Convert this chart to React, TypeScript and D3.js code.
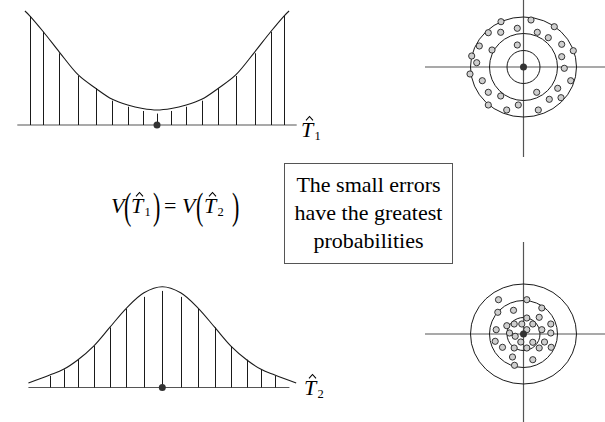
import React from 'react';
import * as d3 from 'd3';

const W = 605, H = 422;

// estimator T1: wide sampling distribution (top left)
const t1StemX = [-1, -0.895, -0.769, -0.62, -0.483, -0.352, -0.23, -0.113, 0, 0.113, 0.23, 0.352, 0.483, 0.62, 0.769, 0.895, 1];
const t1StemH = [0.956, 0.818, 0.629, 0.43, 0.322, 0.213, 0.16, 0.123, 0.1, 0.123, 0.16, 0.213, 0.322, 0.43, 0.629, 0.818, 0.956];
const t1CurveX = [-1.04, -1, -0.895, -0.769, -0.62, -0.483, -0.352, -0.23, -0.113, 0, 0.113, 0.23, 0.352, 0.483, 0.62, 0.769, 0.895, 1, 1.04];
const t1CurveY = [1, 0.956, 0.818, 0.64, 0.439, 0.322, 0.225, 0.175, 0.145, 0.132, 0.145, 0.175, 0.225, 0.322, 0.439, 0.64, 0.818, 0.956, 1];

// estimator T2: concentrated distribution (bottom left)
const t2StemX = [-1, -0.878, -0.752, -0.61, -0.467, -0.32, -0.163, 0, 0.163, 0.32, 0.467, 0.61, 0.752, 0.878, 1];
const t2StemH = [0.115, 0.18, 0.276, 0.411, 0.596, 0.779, 0.899, 0.958, 0.899, 0.779, 0.596, 0.411, 0.276, 0.18, 0.115];
const t2CurveX = [-1.19, -1, -0.878, -0.752, -0.61, -0.467, -0.32, -0.163, 0, 0.163, 0.32, 0.467, 0.61, 0.752, 0.878, 1, 1.19];
const t2CurveY = [0.045, 0.124, 0.18, 0.273, 0.411, 0.596, 0.786, 0.94, 1, 0.94, 0.786, 0.596, 0.411, 0.273, 0.18, 0.124, 0.045];

// target rings (error units)
const ringRx = [16.5, 34, 53];
const ringRy = [16.5, 33.5, 50];

// shots around the target for T1 (dx, dy with y up)
const t1Shots: [number, number][] = [
  [-22.5, 45.3], [7.5, 47], [30.8, 40.3], [-35.2, 34.3], [-22.8, 34.7], [-6.2, 38.7], [13.8, 34.7], [24.8, 29.3],
  [-44.2, 21], [-31.5, 17], [-6.2, 22], [38.2, 22.7], [49.8, 16.3], [-51.8, 11], [-46.8, 4.3], [38.2, 10.3],
  [40.8, -1.3], [-53.5, -7], [-41.2, -13.7], [47.2, -13.7], [-35.2, -25.3], [-22.8, -29], [13.2, -25.3], [34.2, -21.3],
  [25.8, -32.3], [37.5, -30.7], [-35.2, -38], [-16.8, -43], [-5.2, -38], [14.8, -43],
];

// shots for T2
const t2Shots: [number, number][] = [
  [-25, 34.3], [3.3, 34.3], [18.3, 26], [-25.7, 21.7], [-10, 23.7], [3.3, 16], [15.7, 16.7], [-16.7, 8.3],
  [-9.3, 10], [-1.7, 10], [9.3, 10], [27.3, 10], [-27.3, 4.3], [-14, 1], [3.3, 4.3], [18.3, 4.3],
  [27.3, 1], [-8.3, -2.3], [-28.3, -7.3], [-2.7, -8], [9.3, -8.3], [21, -8], [-21, -13.3], [-9.3, -14],
  [3.3, -14], [15.7, -14], [27.7, -13.3], [-11, -23], [9.3, -25.7], [-9, -31.3],
];

const boxLines = ['The small errors', 'have the greatest', 'probabilities'];

const ink = '#1a1a1a';
const axisCol = '#555';
const serif = 'Liberation Serif';

function Distribution(props: { xs: number[]; hs: number[]; cx: number[]; cy: number[]; xRange: [number, number]; yRange: [number, number]; axisDom: [number, number] }) {
  const x = d3.scaleLinear().domain([-1, 1]).range(props.xRange);
  const y = d3.scaleLinear().domain([0, 1]).range(props.yRange);
  const pts = props.cx.map((v, i) => [v, props.cy[i]] as [number, number]);
  const line = d3.line<[number, number]>().x(d => x(d[0])).y(d => y(d[1])).curve(d3.curveCatmullRom.alpha(0.5));
  return (
    <g>
      <line x1={x(props.axisDom[0])} x2={x(props.axisDom[1])} y1={y(0)} y2={y(0)} stroke={axisCol} strokeWidth={1.2} />
      {props.xs.map((v, i) => (
        <line key={i} x1={Math.round(x(v)) + 0.5} x2={Math.round(x(v)) + 0.5} y1={y(0)} y2={y(props.hs[i])} stroke={ink} strokeWidth={1} />
      ))}
      <path d={line(pts) || ''} fill="none" stroke={ink} strokeWidth={1.1} />
      <circle cx={x(0)} cy={y(0)} r={3.5} fill="#333" />
    </g>
  );
}

function Target(props: { cx: number; cy: number; shots: [number, number][]; hx: [number, number]; vy: [number, number] }) {
  const sx = d3.scaleLinear().domain([-60, 60]).range([props.cx - 60, props.cx + 60]);
  const sy = d3.scaleLinear().domain([-60, 60]).range([props.cy + 60, props.cy - 60]);
  return (
    <g>
      <line x1={props.hx[0]} x2={props.hx[1]} y1={props.cy} y2={props.cy} stroke={axisCol} strokeWidth={1.2} />
      <line x1={props.cx} x2={props.cx} y1={props.vy[0]} y2={props.vy[1]} stroke={axisCol} strokeWidth={1.2} />
      {ringRx.map((r, i) => (
        <ellipse key={i} cx={props.cx} cy={props.cy} rx={sx(r) - sx(0)} ry={sy(0) - sy(ringRy[i])} fill="none" stroke={ink} strokeWidth={1} />
      ))}
      {props.shots.map((d, i) => (
        <circle key={i} cx={sx(d[0])} cy={sy(d[1])} r={3.1} fill="#cfcfcf" stroke="#222" strokeWidth={0.9} />
      ))}
      <circle cx={props.cx} cy={props.cy} r={3.5} fill="#333" />
    </g>
  );
}

// italic T with a circumflex and a subscript
function THat(props: { x: number; y: number; sub: string }) {
  const s = 22;
  const top = props.y - s * 0.66;
  const hx = props.x + 8.5;
  return (
    <g fill="#000">
      <text x={props.x} y={props.y} fontSize={s} fontStyle="italic" fontFamily={serif}>T</text>
      <path d={`M${hx - 3.5},${top - 2} L${hx},${top - 6} L${hx + 3.5},${top - 2}`} fill="none" stroke="#000" strokeWidth={1.1} />
      <text x={props.x + 13.5} y={props.y + 3} fontSize={12.5} fontFamily={serif}>{props.sub}</text>
    </g>
  );
}

function Paren(props: { x: number; y: number; ch: string }) {
  return (
    <text x={0} y={0} fontSize={22} transform={`translate(${props.x} ${props.y}) scale(1 1.75)`}
      fontFamily={serif}>{props.ch}</text>
  );
}

export default function App() {
  return (
    <svg width={W} height={H} style={{ position: 'absolute', left: 0, top: 0, background: '#fff' }}>
      <Distribution xs={t1StemX} hs={t1StemH} cx={t1CurveX} cy={t1CurveY} xRange={[30, 284]} yRange={[125, 11]} axisDom={[-1.1, 1.1]} />
      <THat x={301} y={137} sub="1" />
      <Target cx={523.5} cy={67} shots={t1Shots} hx={[425, 605]} vy={[0, 157]} />

      <Distribution xs={t2StemX} hs={t2StemH} cx={t2CurveX} cy={t2CurveY} xRange={[49.8, 274.8]} yRange={[387.5, 286.7]} axisDom={[-1.19, 1.13]} />
      <THat x={304} y={395} sub="2" />
      <Target cx={523.5} cy={334} shots={t2Shots} hx={[425, 605]} vy={[242, 422]} />

      {/* V(T1) = V(T2) */}
      <g>
        <text x={111} y={213} fontSize={22} fontStyle="italic" fontFamily={serif}>V</text>
        <Paren x={124} y={219} ch="(" />
        <THat x={131} y={213} sub="1" />
        <Paren x={153} y={219} ch=")" />
        <text x={164} y={213} fontSize={22} fontFamily={serif}>=</text>
        <text x={182} y={213} fontSize={22} fontStyle="italic" fontFamily={serif}>V</text>
        <Paren x={196} y={219} ch="(" />
        <THat x={204} y={213} sub="2" />
        <Paren x={232} y={219} ch=")" />
      </g>

      <rect x={284.5} y={163.5} width={168} height={100} fill="none" stroke="#555" strokeWidth={1} />
      {boxLines.map((t, i) => (
        <text key={i} x={368.5} y={192 + i * 28} textAnchor="middle" fontSize={22} fontFamily={serif}>{t}</text>
      ))}
    </svg>
  );
}
